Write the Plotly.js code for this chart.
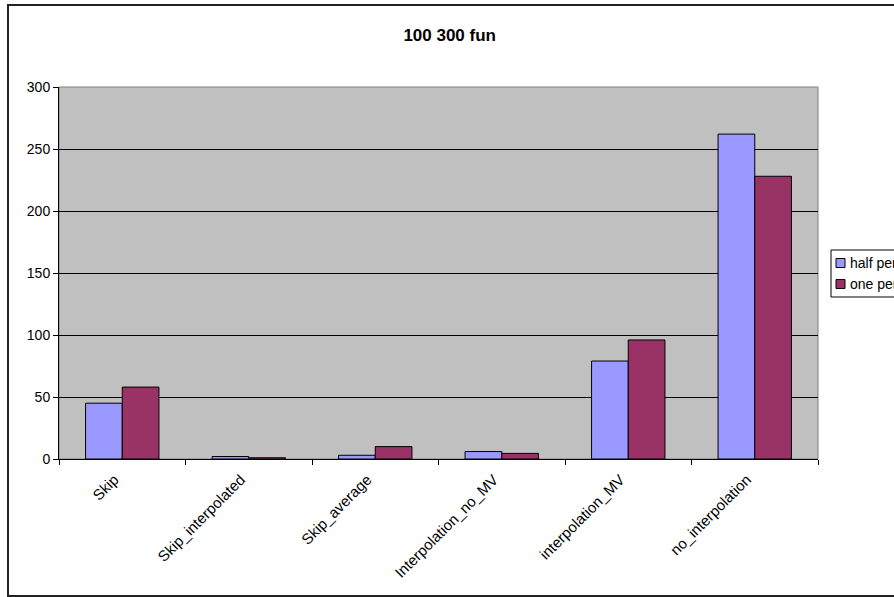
<!DOCTYPE html>
<html>
<head>
<meta charset="utf-8">
<script src="https://cdn.plot.ly/plotly-3.0.1.min.js"></script>
<style>html,body{margin:0;padding:0;background:#fff;}#chart{width:894px;height:597px;}</style>
</head>
<body>
<div id="chart"></div>
<script>
var categories = ["Skip", "Skip_interpolated", "Skip_average", "Interpolation_no_MV", "interpolation_MV", "no_interpolation"];
var halfPeriod = [45, 2, 3, 6, 79, 262];
var onePeriod = [58, 1, 10, 4.5, 96, 228];
var seriesNames = ["half period", "one period"];
var seriesColors = ["#9999ff", "#993366"];
var yTicks = [0, 50, 100, 150, 200, 250, 300];

var fam = "Arial, 'Liberation Sans', sans-serif";
var font = {family: fam, size: 14, color: "#000"};

var traces = [
  {type: "bar", name: seriesNames[0], x: categories, y: halfPeriod,
   marker: {color: seriesColors[0], line: {color: "#000", width: 1}}},
  {type: "bar", name: seriesNames[1], x: categories, y: onePeriod,
   marker: {color: seriesColors[1], line: {color: "#000", width: 1}}}
];

// plot area in pixels: x 59..818, y 87..459
function px(x) { return (x - 59) / 759; }
function py(y) { return (459 - y) / 372; }

var shapes = [
  {type: "rect", xref: "paper", yref: "paper", x0: 0, x1: 1, y0: 0, y1: 1,
   line: {color: "#808080", width: 1}, layer: "below"},
  // legend box
  {type: "rect", xref: "paper", yref: "paper", x0: px(831), x1: px(910), y0: py(297), y1: py(250),
   fillcolor: "#fff", line: {color: "#000", width: 1}, layer: "above"},
  // outer chart border
  {type: "rect", xref: "paper", yref: "paper", x0: px(8), x1: 1.2, y0: py(596), y1: py(5),
   line: {color: "#222", width: 2}, layer: "above"}
];
var annotations = [];
var itemY = [263, 284];
for (var i = 0; i < seriesNames.length; i++) {
  shapes.push({type: "rect", xref: "paper", yref: "paper",
    x0: px(836), x1: px(845), y0: py(itemY[i] + 4.5), y1: py(itemY[i] - 4.5),
    fillcolor: seriesColors[i], line: {color: "#000", width: 1}, layer: "above"});
  annotations.push({xref: "paper", yref: "paper", x: px(848), y: py(itemY[i]),
    xanchor: "left", yanchor: "middle", showarrow: false, text: seriesNames[i],
    font: {family: fam, size: 14, color: "#000"}});
}

var layout = {
  width: 894, height: 597,
  margin: {l: 59, r: 76, t: 87, b: 138, pad: 0, autoexpand: false},
  paper_bgcolor: "#fff",
  plot_bgcolor: "#c0c0c0",
  font: font,
  title: {text: "<b>100 300 fun</b>", font: {family: fam, size: 17, color: "#000"},
          x: 0.503, xanchor: "center", y: 1 - 35/597, yanchor: "middle"},
  barmode: "group",
  bargap: 0.42,
  bargroupgap: 0,
  showlegend: false,
  xaxis: {type: "category", tickangle: -45, ticks: "outside", ticklen: 5, tickcolor: "#000",
          tickson: "boundaries", showline: true, linecolor: "#000", linewidth: 1,
          showgrid: false, tickfont: {family: fam, size: 15, color: "#000"}, automargin: false,
          ticklabelshift: -8, ticklabelstandoff: 5},
  yaxis: {range: [0, 300], tickvals: yTicks, ticks: "outside", ticklen: 5, tickcolor: "#000",
          showline: true, linecolor: "#000", linewidth: 1, showgrid: true, gridcolor: "#000",
          gridwidth: 1, zeroline: false, tickfont: font, automargin: false},
  shapes: shapes,
  annotations: annotations
};

Plotly.newPlot("chart", traces, layout, {displayModeBar: false, staticPlot: true});
</script>
</body>
</html>
